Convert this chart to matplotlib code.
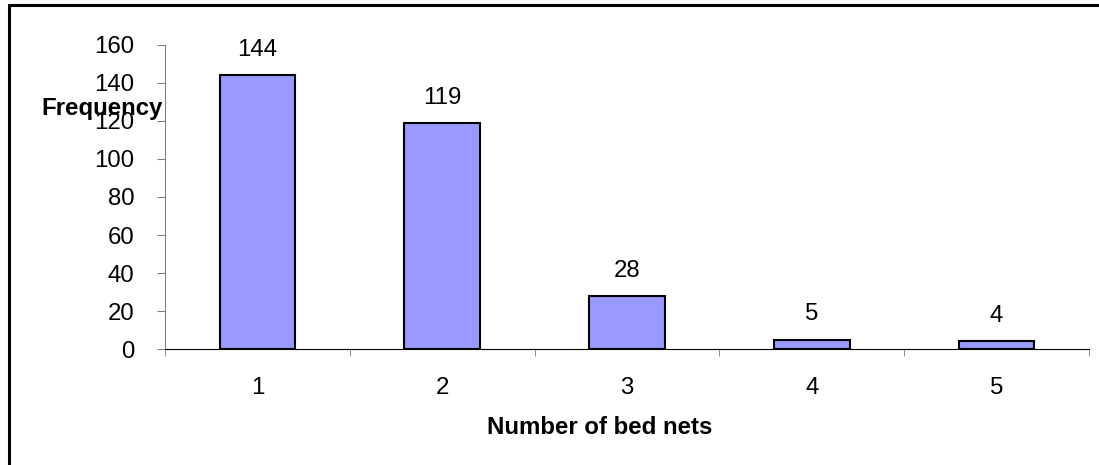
import matplotlib.pyplot as plt
from matplotlib.patches import Rectangle

plt.rcParams['font.family'] = ['Liberation Sans', 'DejaVu Sans']

nets = [1, 2, 3, 4, 5]
freq = [144, 119, 28, 5, 4]
yticks = [0, 20, 40, 60, 80, 100, 120, 140, 160]

FS = 17.3
W, H = 1099, 465
fig = plt.figure(figsize=(W / 100, H / 100), dpi=100)
ax = fig.add_axes([165 / W, 1 - 349 / H, (1089 - 165) / W, (349 - 45) / H])

ax.bar(nets, freq, width=0.41, color='#9999ff', edgecolor='black', linewidth=1.5, zorder=3)
for x, v in zip(nets, freq):
    ax.annotate(str(v), (x, v), xytext=(0, 14), textcoords='offset pixels',
                ha='center', va='bottom', fontsize=FS)

ax.set_xlim(0.5, 5.5)
ax.set_ylim(0, 160)
ax.set_yticks(yticks)
ax.set_xticks(nets)
# ticks on the x axis sit between categories
ax.set_xticks([0.5, 1.5, 2.5, 3.5, 4.5, 5.5], minor=True)
ax.tick_params(axis='x', which='major', length=0, pad=20, labelsize=FS)
ax.tick_params(axis='x', which='minor', length=5, color='#808080', direction='out')
ax.tick_params(axis='y', length=6, color='#808080', pad=16, labelsize=FS)

for s in ['top', 'right']:
    ax.spines[s].set_visible(False)
ax.spines['left'].set_color('#808080')
ax.spines['bottom'].set_color('black')
ax.spines['bottom'].set_zorder(4)

fig.text(163 / W, 1 - 115 / H, 'Frequency', ha='right', va='baseline',
         fontsize=FS, fontweight='bold')
fig.text(600 / W, 1 - 434 / H, 'Number of bed nets', ha='center', va='baseline',
         fontsize=FS, fontweight='bold')

# chart area frame, cut off at the right and bottom edges
fig.patches.append(Rectangle((8.5 / W, -0.1), 1.2, 1 - 5.5 / H + 0.1,
                             transform=fig.transFigure, fill=False,
                             edgecolor='black', linewidth=2.2))

fig.savefig('out.png', dpi=100)
